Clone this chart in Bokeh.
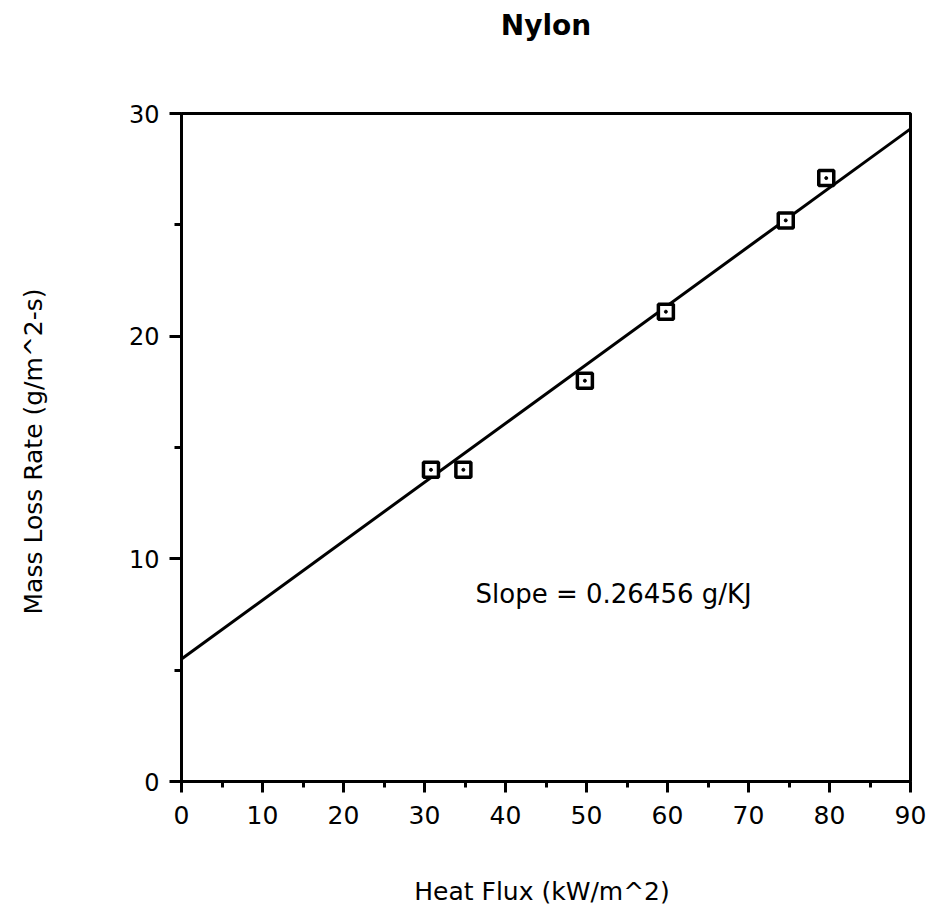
from bokeh.plotting import figure
from bokeh.models import Range1d, FixedTicker, Label, LinearAxis
from bokeh.embed import file_html
from bokeh.resources import INLINE

# data
heat_flux = [30.8, 34.8, 49.8, 59.8, 74.6, 79.6]
mass_loss = [14.0, 14.0, 18.0, 21.1, 25.2, 27.1]
slope = 0.26456
intercept = 5.5
fit_x = [0, 90]
fit_y = [intercept + slope * v for v in fit_x]
x_ticks = [0, 10, 20, 30, 40, 50, 60, 70, 80, 90]
x_minor = [5, 15, 25, 35, 45, 55, 65, 75, 85]
y_ticks = [0, 10, 20, 30]
y_minor = [5, 15, 25]
title_text = "Nylon"
slope_text = "Slope = 0.26456 g/KJ"

FONT = "DejaVu Sans"

p = figure(width=929, height=906, output_backend="svg", toolbar_location=None,
           x_range=Range1d(0, 90), y_range=Range1d(0, 30),
           frame_width=729, frame_height=668,
           min_border_left=181, min_border_right=19, min_border_top=113, min_border_bottom=125)

p.grid.visible = False
p.outline_line_color = "black"
p.outline_line_width = 3
p.outline_line_alpha = 1
p.background_fill_color = "white"
p.border_fill_color = "white"

for ax in (p.xaxis[0], p.yaxis[0]):
    ax.axis_line_width = 3
    ax.major_tick_line_width = 3
    ax.minor_tick_line_width = 3
    ax.major_tick_in = 0
    ax.minor_tick_in = 0
    ax.major_label_text_font = FONT
    ax.major_label_text_color = "black"
    ax.axis_label_text_font = FONT
    ax.axis_label_text_font_size = "25px"
    ax.axis_label_text_font_style = "normal"
    ax.axis_label_text_color = "black"

p.xaxis.major_label_text_font_size = "25px"
p.yaxis.major_label_text_font_size = "24px"
p.xaxis.ticker = FixedTicker(ticks=x_ticks, minor_ticks=x_minor)
p.yaxis.ticker = FixedTicker(ticks=y_ticks, minor_ticks=y_minor)
p.xaxis.major_tick_out = 11
p.xaxis.minor_tick_out = 6
p.yaxis.major_tick_out = 12
p.yaxis.minor_tick_out = 7
p.xaxis.major_label_standoff = 13
p.yaxis.major_label_standoff = 10
p.xaxis.axis_label = "Heat Flux  (kW/m^2)"
p.yaxis.axis_label = "Mass Loss Rate  (g/m^2-s)"
p.xaxis.axis_label_standoff = 50
p.yaxis.axis_label_standoff = 78

# title drawn as the label of an empty axis above the frame
top = LinearAxis(ticker=FixedTicker(ticks=[], minor_ticks=[]),
                 axis_line_color=None, major_tick_line_color=None, minor_tick_line_color=None,
                 axis_label=title_text, axis_label_text_font=FONT,
                 axis_label_text_font_size="28px", axis_label_text_font_style="bold",
                 axis_label_text_color="black", axis_label_standoff=72)
p.add_layout(top, "above")

p.line(fit_x, fit_y, line_color="black", line_width=3)
p.scatter(heat_flux, mass_loss, marker="square", size=15, fill_color="white",
          line_color="black", line_width=3.5)
p.scatter(heat_flux, mass_loss, marker="circle", size=3, fill_color="black", line_color="black")

p.add_layout(Label(x=36.3, y=8.44, text=slope_text, text_font=FONT,
                   text_font_size="26px", text_baseline="middle", text_align="left",
                   text_color="black"))

open("out.html", "w").write(file_html(p, INLINE))
